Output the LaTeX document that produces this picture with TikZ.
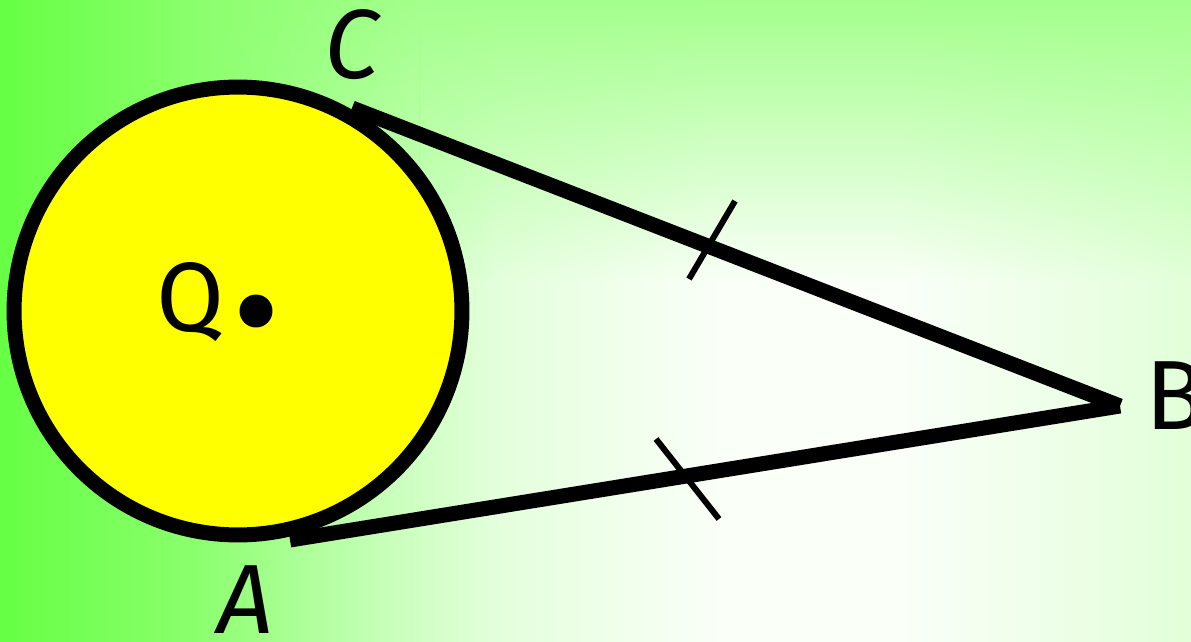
\documentclass[tikz,border=0pt]{standalone}
\usepackage{fontspec}
\setmainfont{Fira Sans}
\usetikzlibrary{fadings}
\definecolor{gA}{HTML}{66FF44}
\definecolor{gB}{HTML}{8CFF6E}
\definecolor{gC}{HTML}{C6FFB8}
\definecolor{gC2}{HTML}{E4FFDC}
\definecolor{gD}{HTML}{FAFFF8}
\definecolor{gE}{HTML}{E2FFD9}
\definecolor{gTop}{HTML}{A4FF8C}
\definecolor{disc}{HTML}{FFFF00}
\tikzfading[name=fadedown, top color=transparent!0, bottom color=transparent!100]
\tikzset{
  thick line/.style={line width=0.3cm, line cap=butt},
  tick/.style={line width=0.12cm, line cap=butt},
  lbl/.style={font=\fontsize{56}{56}\selectfont, inner sep=0pt},
}
\begin{document}
\begin{tikzpicture}[x=0.02cm, y=-0.02cm]
  \useasboundingbox (0,0) rectangle (1191,642);
  % background
  \shade[left color=gA, right color=gB] (0,0) rectangle (200,642);
  \shade[left color=gB, right color=gC] (199,0) rectangle (380,642);
  \shade[left color=gC, right color=gC2] (379,0) rectangle (500,642);
  \shade[left color=gC2, right color=gD] (499,0) rectangle (720,642);
  \fill[gD] (719,0) rectangle (900,642);
  \shade[left color=gD, right color=gE] (899,0) rectangle (1191,642);
  \shade[left color=gA, right color=gB, path fading=fadedown] (0,0) rectangle (200,280);
  \shade[left color=gB, right color=gTop, path fading=fadedown] (199,0) rectangle (420,280);
  \fill[gTop, path fading=fadedown] (419,0) rectangle (1191,280);
  % points
  \coordinate (Q) at (238,311);
  \coordinate (C) at (352,108);
  \coordinate (A) at (290,540);
  \coordinate (B) at (1120,406);
  \coordinate (t1a) at (689,279);
  \coordinate (t1b) at (735,201);
  \coordinate (t2a) at (656,439);
  \coordinate (t2b) at (719,519);
  % circle
  \draw[thick line, fill=disc] (Q) circle[radius=4.48cm];
  \fill (256,311) circle[radius=0.33cm];
  % tangents
  \draw[thick line] (C) -- (B);
  \draw[thick line] (A) -- (B);
  \draw[tick] (t1a) -- (t1b);
  \draw[tick] (t2a) -- (t2b);
  % labels
  \node[lbl] (lQ) at (190,302) {Q};
  \node[lbl] (lC) at (352,45) {\itshape C};
  \node[lbl] (lA) at (245,600) {\itshape A};
  \node[lbl, anchor=west] (lB) at (1145,396) {B};
\end{tikzpicture}
\end{document}
